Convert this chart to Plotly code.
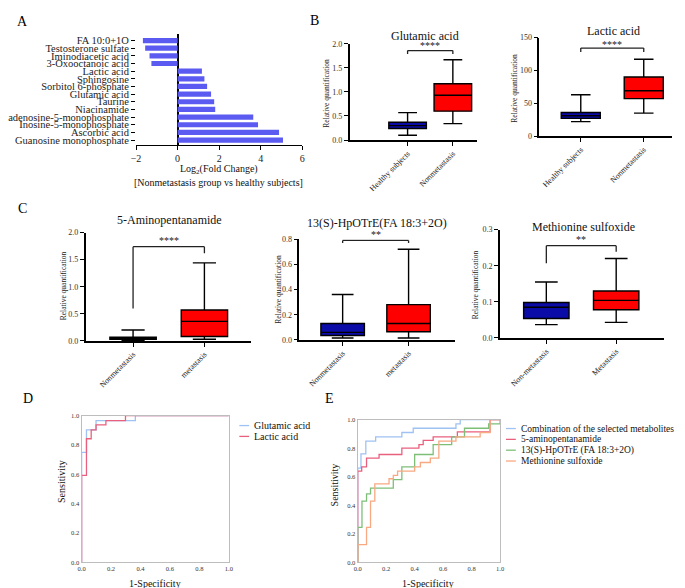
import plotly.graph_objects as go

W, H = 685, 588
FONT = "'Liberation Serif', 'Times New Roman', Times, serif"

# ---------------- Data ----------------
# Panel A
metabolites = ["FA 10:0+1O", "Testosterone sulfate", "Iminodiacetic acid", "3-Oxooctanoic acid",
               "Lactic acid", "Sphingosine", "Sorbitol 6-phosphate", "Glutamic acid", "Taurine",
               "Niacinamide", "adenosine-5-monophosphate", "Inosine-5-monophosphate",
               "Ascorbic acid", "Guanosine monophosphate"]
log2fc = [-1.67, -1.56, -1.35, -1.26, 1.17, 1.29, 1.42, 1.61, 1.76, 1.81, 3.64, 3.87, 4.88, 5.07]
a_ticks = [-2, 0, 2, 4, 6]

# Box stats: [lower whisker, Q1, median, Q3, upper whisker]
glu_groups = ["Healthy subjects", "Nonmetastasis"]
glu_stats = [[0.10, 0.24, 0.30, 0.37, 0.57], [0.34, 0.60, 0.93, 1.17, 1.67]]
lac_groups = ["Healthy subjects", "Nonmetastasis"]
lac_stats = [[22, 27, 31, 36, 63], [35, 57, 69, 90, 117]]
amp_groups = ["Nonmetastasis", "metastasis"]
amp_stats = [[0.01, 0.03, 0.05, 0.07, 0.20], [0.03, 0.08, 0.36, 0.57, 1.44]]
hpo_groups = ["Nonmetastasis", "metastasis"]
hpo_stats = [[0.015, 0.035, 0.06, 0.13, 0.36], [0.015, 0.065, 0.13, 0.28, 0.72]]
met_groups = ["Non-metastasis", "Metastasis"]
met_stats = [[0.037, 0.054, 0.085, 0.098, 0.155], [0.043, 0.078, 0.104, 0.13, 0.22]]

# ROC curves (1-specificity, sensitivity)
d_glu_fpr = [0, 0, 0.033, 0.033, 0.098, 0.098, 0.365, 0.365, 1]
d_glu_tpr = [0, 0.75, 0.75, 0.904, 0.904, 0.966, 0.966, 1, 1]
d_lac_fpr = [0, 0, 0.033, 0.033, 0.065, 0.065, 0.098, 0.098, 0.165, 0.165, 0.298, 0.298, 1]
d_lac_tpr = [0, 0.593, 0.593, 0.843, 0.843, 0.904, 0.904, 0.937, 0.937, 0.966, 0.966, 1, 1]

e_comb_fpr = [0, 0, 0.023, 0.023, 0.057, 0.057, 0.126, 0.126, 0.31, 0.31, 0.39, 0.39, 0.69, 0.69, 0.72, 0.72, 1]
e_comb_tpr = [0, 0.66, 0.66, 0.76, 0.76, 0.85, 0.85, 0.88, 0.88, 0.91, 0.91, 0.94, 0.94, 0.97, 0.97, 1, 1]
e_amp_fpr = [0, 0, 0.028, 0.028, 0.062, 0.062, 0.15, 0.15, 0.31, 0.31, 0.43, 0.43, 0.46, 0.46, 0.53, 0.53,
             0.70, 0.70, 0.93, 0.93, 1]
e_amp_tpr = [0, 0.64, 0.64, 0.67, 0.67, 0.73, 0.73, 0.756, 0.756, 0.80, 0.80, 0.825, 0.825, 0.855, 0.855, 0.88,
             0.88, 0.915, 0.915, 1, 1]
e_hpo_fpr = [0, 0, 0.03, 0.03, 0.062, 0.062, 0.09, 0.09, 0.25, 0.25, 0.31, 0.31, 0.40, 0.40, 0.53, 0.53,
             0.66, 0.66, 0.75, 0.75, 0.92, 0.92, 1, 1]
e_hpo_tpr = [0, 0.246, 0.246, 0.43, 0.43, 0.48, 0.48, 0.52, 0.52, 0.58, 0.58, 0.67, 0.67, 0.756, 0.756, 0.825,
             0.825, 0.88, 0.88, 0.94, 0.94, 0.97, 0.97, 1]
e_met_fpr = [0, 0, 0.062, 0.062, 0.09, 0.09, 0.12, 0.12, 0.22, 0.22, 0.25, 0.25, 0.28, 0.28, 0.40, 0.40,
             0.44, 0.44, 0.51, 0.51, 0.57, 0.57, 0.69, 0.69, 0.86, 0.86, 0.93, 0.93, 1]
e_met_tpr = [0, 0.125, 0.125, 0.246, 0.246, 0.43, 0.43, 0.55, 0.55, 0.586, 0.586, 0.61, 0.61, 0.64, 0.64, 0.67,
             0.67, 0.70, 0.70, 0.73, 0.73, 0.85, 0.85, 0.88, 0.88, 0.91, 0.91, 1, 1]

# ---------------- Helpers ----------------
def dx(a, b):
    return [a / W, b / W]

def dy(top, bottom):
    return [1 - bottom / H, 1 - top / H]

fig = go.Figure()
annotations = []
shapes = []

def ann(text, x, y, size, angle=0, xanchor="center", yanchor="middle", color="#111"):
    annotations.append(dict(text=text, x=x / W, y=1 - y / H, xref="paper", yref="paper",
                            showarrow=False, textangle=angle, xanchor=xanchor, yanchor=yanchor,
                            font=dict(family=FONT, size=size, color=color)))

BLUE = "#0B0BA8"
RED = "#FF0000"

# ---------------- Panel A ----------------
fig.add_trace(go.Bar(y=metabolites, x=log2fc, orientation="h", marker_color="#5B5BF2",
                     marker_line_width=0, width=0.68, xaxis="x", yaxis="y",
                     showlegend=False, hoverinfo="skip"))
layout = dict(
    xaxis=dict(domain=dx(123, 292), anchor="y", range=[-2, 6], tickvals=a_ticks,
               showline=True, linecolor="black", linewidth=1.3, ticks="outside", ticklen=4,
               tickcolor="black", showgrid=False, zeroline=True, zerolinecolor="black",
               zerolinewidth=1.5, tickfont=dict(family=FONT, size=10, color="#222")),
    yaxis=dict(domain=dy(22, 135), anchor="x", type="category", categoryorder="array",
               categoryarray=metabolites, tickmode="array", tickvals=metabolites,
               ticktext=metabolites, range=[13.64, -0.9], showline=False, ticks="outside",
               ticklen=4, tickcolor="black", showgrid=False, zeroline=False,
               tickfont=dict(family=FONT, size=10.5, color="#222")),
)
ann("Log<sub>2</sub>(Fold Change)", 207, 160, 10)
ann("[Nonmetastasis group vs healthy subjects]", 207, 173, 10)

# ---------------- Box panels ----------------
box_panels = [
    # axis id, groups, stats, left px, right px, pos0 px, pos1 px, y0 px, ytop px, ymax, dtick, fmt, width,
    # title, title x, title y, ylabel x, ylabel y, bracket y, left leg, right leg, star text, star y px
    ("2", glu_groups, glu_stats, 340, 470, 399, 445, 130, 32.3, 2.0, 0.5, ".1f", 0.83,
     "Glutamic acid", 416.7, 24, 317, 82, 1.86, 1.79, 1.79, "****", 34),
    ("3", lac_groups, lac_stats, 533, 668, 575, 639, 126, 26, 150, 50, "d", 0.62,
     "Lactic acid", 608, 19.5, 508, 77, 134, 128, 128, "****", 33),
    ("4", amp_groups, amp_stats, 71.7, 240, 120, 192.5, 334, 224, 2.0, 0.5, ".1f", 0.65,
     "5-Aminopentanamide", 157, 211.7, 49.3, 278, 1.74, 0.6, 1.62, "****", 232),
    ("5", hpo_groups, hpo_stats, 289, 447, 333, 400, 333, 230.7, 0.8, 0.2, ".1f", 0.66,
     "13(S)-HpOTrE(FA 18:3+2O)", 368, 214.3, 267.7, 281.7, 0.79, 0.77, 0.77, "**", 226),
    ("6", met_groups, met_stats, 492.7, 660, 540, 611, 331, 221, 0.3, 0.1, ".1f", 0.65,
     "Methionine sulfoxide", 578, 218.3, 468.3, 276.7, 0.2555, 0.207, 0.239, "**", 231.5),
]

for (aid, groups, stats, left, right, p0, p1, y0, ytop, ymax, dt, fmt, bw,
     title, tx, ty, lx, ly, by, l1, l2, star, sy) in box_panels:
    unit = p1 - p0
    xr = [(left - p0) / unit, (right - p0) / unit]
    for i, (g, s) in enumerate(zip(groups, stats)):
        fig.add_trace(go.Box(x=[i], lowerfence=[s[0]], q1=[s[1]], median=[s[2]], q3=[s[3]],
                             upperfence=[s[4]], width=bw, whiskerwidth=0.5,
                             fillcolor=BLUE if i == 0 else RED,
                             line=dict(color="black", width=1.4), xaxis="x" + aid, yaxis="y" + aid,
                             showlegend=False, hoverinfo="skip", boxpoints=False))
    layout["xaxis" + aid] = dict(domain=dx(left, right), anchor="y" + aid, range=xr,
                                 tickmode="array", tickvals=[0, 1], ticktext=groups, tickangle=-45,
                                 showline=True, linecolor="black", linewidth=1.5, ticks="outside",
                                 ticklen=4, tickcolor="black", showgrid=False, zeroline=False,
                                 tickfont=dict(family=FONT, size=8, color="#222"))
    layout["yaxis" + aid] = dict(domain=dy(ytop, y0), anchor="x" + aid, range=[0, ymax], dtick=dt,
                                 tickformat=fmt, showline=True, linecolor="black", linewidth=1.5,
                                 ticks="outside", ticklen=4, tickcolor="black", showgrid=False,
                                 zeroline=False, tickfont=dict(family=FONT, size=8, color="#333"))
    xr_, yr_ = "x" + aid, "y" + aid
    for (xa, ya, xb, yb) in [(0, l1, 0, by), (0, by, 1, by), (1, by, 1, l2)]:
        shapes.append(dict(type="line", xref=xr_, yref=yr_, x0=xa, y0=ya, x1=xb, y1=yb,
                           line=dict(color="#222", width=1.3)))
    ann(star, (p0 + p1) / 2, sy, 10, color="#222")
    ann(title, tx, ty, 12)
    ann("Relative quantification", lx, ly, 7.5, angle=-90, color="#222")

# ---------------- ROC panels ----------------
roc_axis = dict(range=[0, 1], tickmode="array", tickvals=[0, 0.2, 0.4, 0.6, 0.8, 1.0],
                ticktext=["0.0", "0.2", "0.4", "0.6", "0.8", "1.0"],
                showline=True, mirror=True, linecolor="#BDBDBD", linewidth=1.2, ticks="",
                showgrid=False, zeroline=False, tickfont=dict(family=FONT, size=6.5, color="#333"))
layout["xaxis7"] = dict(roc_axis, domain=dx(67.7, 217.3), anchor="y7")
layout["yaxis7"] = dict(roc_axis, domain=dy(410, 559), anchor="x7")
layout["xaxis8"] = dict(roc_axis, domain=dx(348.3, 493), anchor="y8")
layout["yaxis8"] = dict(roc_axis, domain=dy(414, 559), anchor="x8")

C_BLUE = "#9EC2F2"
C_PINK = "#E9607F"
C_GREEN = "#7EBF78"
C_ORANGE = "#F8A982"

d_series = [("Glutamic acid", d_glu_fpr, d_glu_tpr, C_BLUE),
            ("Lactic acid", d_lac_fpr, d_lac_tpr, C_PINK)]
e_series = [("Combination of the selected metabolites", e_comb_fpr, e_comb_tpr, C_BLUE),
            ("5-aminopentanamide", e_amp_fpr, e_amp_tpr, C_PINK),
            ("13(S)-HpOTrE (FA 18:3+2O)", e_hpo_fpr, e_hpo_tpr, C_GREEN),
            ("Methionine sulfoxide", e_met_fpr, e_met_tpr, C_ORANGE)]

for name, fx, fy, col in d_series:
    fig.add_trace(go.Scatter(x=fx, y=fy, mode="lines", line=dict(color=col, width=1.3),
                             xaxis="x7", yaxis="y7", name=name, showlegend=False, hoverinfo="skip"))
for name, fx, fy, col in e_series:
    fig.add_trace(go.Scatter(x=fx, y=fy, mode="lines", line=dict(color=col, width=1.3),
                             xaxis="x8", yaxis="y8", name=name, showlegend=False, hoverinfo="skip"))

def legend(series, x0, x1, xt, ys, size):
    for (name, _, _, col), yy in zip(series, ys):
        shapes.append(dict(type="line", xref="paper", yref="paper", x0=x0 / W, x1=x1 / W,
                           y0=1 - yy / H, y1=1 - yy / H, line=dict(color=col, width=1.3)))
        ann(name, xt, yy, size, xanchor="left")

legend(d_series, 228, 238, 241, [420, 431], 10)
legend(e_series, 499, 509, 512, [423, 434, 445, 456], 9.5)

ann("Sensitivity", 47, 477, 10, angle=-90)
ann("1-Specificity", 142, 580.5, 10)
ann("Sensitivity", 325, 480, 10, angle=-90)
ann("1-Specificity", 420, 580.5, 10)

# Panel letters
for letter, x, y in [("A", 8, 10), ("B", 304, 9), ("C", 8, 200), ("D", 13, 392), ("E", 320, 392)]:
    ann(letter, x, y, 14, color="#000")

layout.update(width=W, height=H, margin=dict(l=0, r=0, t=0, b=0),
              paper_bgcolor="white", plot_bgcolor="white", bargap=0.3,
              annotations=annotations, shapes=shapes, boxmode="overlay",
              font=dict(family=FONT))
fig.update_layout(**layout)
fig.write_html("out.html")
